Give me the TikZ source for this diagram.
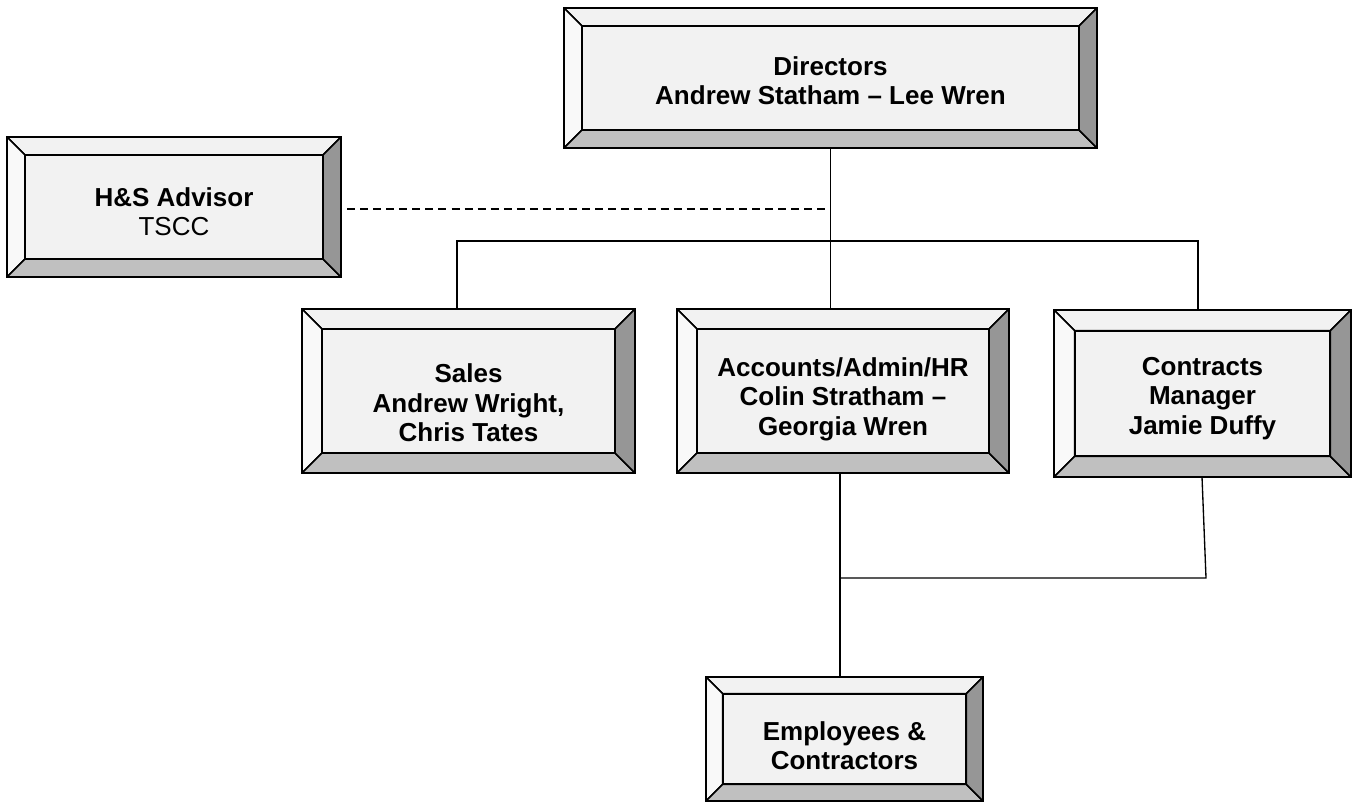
\documentclass[tikz,border=0pt]{standalone}
\usepackage{fontspec}
\setmainfont{Liberation Sans}
\usetikzlibrary{calc}
\definecolor{face}{HTML}{F2F2F2}
\definecolor{bevtop}{HTML}{F2F2F2}
\definecolor{bevleft}{HTML}{F9F9F9}
\definecolor{bevbot}{HTML}{C0C0C0}
\definecolor{bevright}{HTML}{969696}
\newdimen\bw
\bw=14pt
\tikzset{
  bevw/.code={\setlength\bw{#1}},
  bevelbox/.style={rectangle, draw=black, line width=1.5pt, fill=face, inner sep=0pt,
    path picture={
      \coordinate (NW) at (path picture bounding box.north west);
      \coordinate (NE) at (path picture bounding box.north east);
      \coordinate (SW) at (path picture bounding box.south west);
      \coordinate (SE) at (path picture bounding box.south east);
      \coordinate (nw) at ([shift={(\bw,-\bw)}]path picture bounding box.north west);
      \coordinate (ne) at ([shift={(-\bw,-\bw)}]path picture bounding box.north east);
      \coordinate (sw) at ([shift={(\bw,\bw)}]path picture bounding box.south west);
      \coordinate (se) at ([shift={(-\bw,\bw)}]path picture bounding box.south east);
      \filldraw[line width=1.1pt, draw=black, fill=bevtop] (NW) -- (NE) -- (ne) -- (nw) -- cycle;
      \filldraw[line width=1.1pt, draw=black, fill=bevleft] (NW) -- (nw) -- (sw) -- (SW) -- cycle;
      \filldraw[line width=1.1pt, draw=black, fill=bevbot] (SW) -- (sw) -- (se) -- (SE) -- cycle;
      \filldraw[line width=1.1pt, draw=black, fill=bevright] (NE) -- (SE) -- (se) -- (ne) -- cycle;
      \filldraw[line width=1.4pt, draw=black, fill=face] (nw) rectangle (se);
    }},
  lbl/.style={align=center, inner sep=0pt, font=\fontsize{19.5}{22}\selectfont\bfseries},
  conn/.style={draw=black, line width=1pt},
  dashline/.style={draw=black, line width=1pt, dash pattern=on 6pt off 3.8pt}
}
\begin{document}
\begin{tikzpicture}[x=0.75pt,y=-0.75pt]
\useasboundingbox (0,0) rectangle (1358,803);
% boxes
\node[bevelbox, bevw=13.5pt, minimum width=533*0.75pt, minimum height=140*0.75pt] (dir) at (830.5,78) {};
\node[bevelbox, bevw=13.5pt, minimum width=334*0.75pt, minimum height=140*0.75pt] (hs) at (174,207) {};
\node[bevelbox, bevw=15pt, minimum width=333*0.75pt, minimum height=164*0.75pt] (sales) at (468.5,391) {};
\node[bevelbox, bevw=15pt, minimum width=332*0.75pt, minimum height=164*0.75pt] (acc) at (843,391) {};
\node[bevelbox, bevw=15.5pt, minimum width=297*0.75pt, minimum height=167*0.75pt] (con) at (1202.5,393.5) {};
\node[bevelbox, bevw=12.5pt, minimum width=277*0.75pt, minimum height=124*0.75pt] (emp) at (844.5,739) {};
% texts
\node[lbl] (dirt) at ($(dir.center)+(0,3)$) {Directors\\Andrew Statham – Lee Wren};
\node[lbl] (hst) at ($(hs.center)+(0,5)$) {H\&S Advisor\\{\mdseries TSCC}};
\node[lbl] (salest) at ($(sales.center)+(0,12)$) {Sales\\Andrew Wright,\\Chris Tates};
\node[lbl] (acct) at ($(acc.center)+(0,8)$) {Accounts/Admin/HR\\Colin Stratham –\\Georgia Wren};
\node[lbl] (cont) at ($(con.center)+(0,5)$) {Contracts\\Manager\\Jamie Duffy};
\node[lbl] (empt) at ($(emp.center)+(0,7)$) {Employees \&\\Contractors};
% connector points
\coordinate (busL) at (457,241);
\coordinate (busR) at (1198,241);
\coordinate (dashS) at (347,209);
\coordinate (dashE) at (830.5,209);
\coordinate (j1) at (840,578);
\coordinate (j2) at (1206,578);
\coordinate (conOut) at (1202,477);
% connectors
\draw[conn] (dir.south) -- (dir.south |- acc.north);
\draw[conn] (busL |- sales.north) -- (busL) -- (busR) -- (busR |- con.north);
\draw[dashline] (dashS) -- (dashE);
\draw[conn] (j1 |- acc.south) -- (j1 |- emp.north);
\draw[conn] (conOut) -- (j2) -- (j1);
\end{tikzpicture}
\end{document}
